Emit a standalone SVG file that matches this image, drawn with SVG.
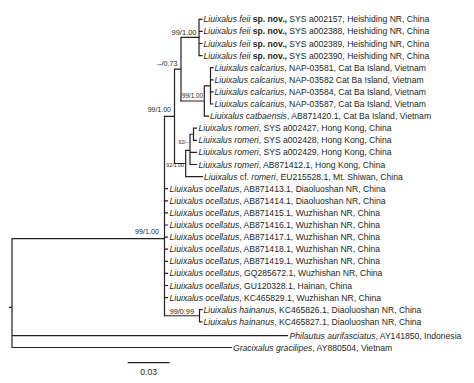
<svg xmlns="http://www.w3.org/2000/svg" width="474" height="383" viewBox="0 0 474 383">
<style>
.br{fill:none;stroke:#231f20;stroke-width:1.2;stroke-linecap:square}
.t{font-family:"Liberation Sans",Arial,sans-serif;font-size:8.6px;fill:#231f20}
.i{font-style:italic}
.b{font-weight:bold}
.s{font-family:"Liberation Sans",Arial,sans-serif;fill:#231f20;text-anchor:end}
</style>
<rect width="474" height="383" fill="#fff"/>
<g id="connectors" class="br">
<path d="M9.5 307.3H12M12 238.6V347.5M12 238.6H164.5M12 335.7H287.5M12 347.5H231.5"/>
<path d="M164.5 116.35V315.75M164.5 116.35H174.5M174.5 69.2V163.5M174.5 69.2H181M181 37.45V101M181 37.45H199"/>
<path d="M199 19.3V55.6M199 19.3H202M199 31.4H202M199 43.5H202M199 55.6H202"/>
<path d="M181 101H204.3M204.3 85.85V116.1M204.3 85.85H210.5M210.5 67.7V104M210.5 67.7H213M210.5 79.8H213M210.5 91.9H213M210.5 104H213M204.3 116.1H208.5"/>
<path d="M174.5 163.5H185.7M185.7 150.4V176.6M185.7 150.4H190M190 134.25V164.5M190 134.25H193.5M193.5 128.2V140.3M193.5 128.2H196.5M193.5 140.3H196.5M190 152.4H196.5M190 164.5H196.5M185.7 176.6H202.5"/>
<path d="M164.5 188.7H167.5M164.5 200.8H167.5M164.5 212.9H167.5M164.5 225H167.5M164.5 237.1H167.5M164.5 249.2H167.5M164.5 261.3H167.5M164.5 273.4H167.5M164.5 285.5H167.5M164.5 297.6H167.5"/>
<path d="M164.5 315.75H199.5M199.5 309.7V321.8M199.5 309.7H202M199.5 321.8H202"/>
<path d="M128.3 362.7H169"/>
</g>
<g id="supports">
<text class="s" x="196.5" y="35" font-size="7.5">99/1.00</text>
<text class="s" x="177.5" y="65.5" font-size="7.2">–/0.73</text>
<text class="s" x="203" y="97.6" font-size="6.3">99/1.00</text>
<text class="s" x="171" y="111.5" font-size="7">99/1.00</text>
<text class="s" x="188.5" y="144.3" font-size="5.3">92/–</text>
<text class="s" x="184" y="166.5" font-size="5.3">92/1.00</text>
<text class="s" x="159" y="233.5" font-size="7.2">99/1.00</text>
<text class="s" x="194" y="314.3" font-size="7.3">99/0.99</text>
</g>
<g id="tips" class="t">
<g id="t1"><text x="203.5" y="22.3"><tspan class="i">Liuixalus feii</tspan> <tspan class="b">sp. nov.,</tspan> SYS a002157, Heishiding NR, China</text></g>
<g id="t2"><text x="203.5" y="34.4"><tspan class="i">Liuixalus feii</tspan> <tspan class="b">sp. nov.,</tspan> SYS a002388, Heishiding NR, China</text></g>
<g id="t3"><text x="203.5" y="46.5"><tspan class="i">Liuixalus feii</tspan> <tspan class="b">sp. nov.,</tspan> SYS a002389, Heishiding NR, China</text></g>
<g id="t4"><text x="203.5" y="58.6"><tspan class="i">Liuixalus feii</tspan> <tspan class="b">sp. nov.,</tspan> SYS a002390, Heishiding NR, China</text></g>
<g id="t5"><text x="214.5" y="70.7"><tspan class="i">Liuixalus calcarius</tspan>, NAP-03581, Cat Ba Island, Vietnam</text></g>
<g id="t6"><text x="214.5" y="82.8"><tspan class="i">Liuixalus calcarius</tspan>, NAP-03582 Cat Ba Island, Vietnam</text></g>
<g id="t7"><text x="214.5" y="94.9"><tspan class="i">Liuixalus calcarius</tspan>, NAP-03584, Cat Ba Island, Vietnam</text></g>
<g id="t8"><text x="214.5" y="107"><tspan class="i">Liuixalus calcarius</tspan>, NAP-03587, Cat Ba Island, Vietnam</text></g>
<g id="t9"><text x="210" y="119.1"><tspan class="i">Liuixalus catbaensis</tspan>, AB871420.1, Cat Ba Island, Vietnam</text></g>
<g id="t10"><text x="198.5" y="131.2"><tspan class="i">Liuixalus romeri</tspan>, SYS a002427, Hong Kong, China</text></g>
<g id="t11"><text x="198.5" y="143.3"><tspan class="i">Liuixalus romeri</tspan>, SYS a002428, Hong Kong, China</text></g>
<g id="t12"><text x="198.5" y="155.4"><tspan class="i">Liuixalus romeri</tspan>, SYS a002429, Hong Kong, China</text></g>
<g id="t13"><text x="198.5" y="167.5"><tspan class="i">Liuixalus romeri</tspan>, AB871412.1, Hong Kong, China</text></g>
<g id="t14"><text x="204" y="179.6"><tspan class="i">Liuixalus</tspan> cf. <tspan class="i">romeri</tspan>, EU215528.1, Mt. Shiwan, China</text></g>
<g id="t15"><text x="169.5" y="191.7"><tspan class="i">Liuixalus ocellatus</tspan>, AB871413.1, Diaoluoshan NR, China</text></g>
<g id="t16"><text x="169.5" y="203.8"><tspan class="i">Liuixalus ocellatus</tspan>, AB871414.1, Diaoluoshan NR, China</text></g>
<g id="t17"><text x="169.5" y="215.9"><tspan class="i">Liuixalus ocellatus</tspan>, AB871415.1, Wuzhishan NR, China</text></g>
<g id="t18"><text x="169.5" y="228"><tspan class="i">Liuixalus ocellatus</tspan>, AB871416.1, Wuzhishan NR, China</text></g>
<g id="t19"><text x="169.5" y="240.1"><tspan class="i">Liuixalus ocellatus</tspan>, AB871417.1, Wuzhishan NR, China</text></g>
<g id="t20"><text x="169.5" y="252.2"><tspan class="i">Liuixalus ocellatus</tspan>, AB871418.1, Wuzhishan NR, China</text></g>
<g id="t21"><text x="169.5" y="264.3"><tspan class="i">Liuixalus ocellatus</tspan>, AB871419.1, Wuzhishan NR, China</text></g>
<g id="t22"><text x="169.5" y="276.4"><tspan class="i">Liuixalus ocellatus</tspan>, GQ285672.1, Wuzhishan NR, China</text></g>
<g id="t23"><text x="169.5" y="288.5"><tspan class="i">Liuixalus ocellatus</tspan>, GU120328.1, Hainan, China</text></g>
<g id="t24"><text x="169.5" y="300.6"><tspan class="i">Liuixalus ocellatus</tspan>, KC465829.1, Wuzhishan NR, China</text></g>
<g id="t25"><text x="203.5" y="312.7"><tspan class="i">Liuixalus hainanus</tspan>, KC465826.1, Diaoluoshan NR, China</text></g>
<g id="t26"><text x="203.5" y="324.8"><tspan class="i">Liuixalus hainanus</tspan>, KC465827.1, Diaoluoshan NR, China</text></g>
<g id="t27"><text x="289.5" y="338.7"><tspan class="i">Philautus aurifasciatus</tspan>, AY141850, Indonesia</text></g>
<g id="t28"><text x="233" y="350.5"><tspan class="i">Gracixalus gracilipes</tspan>, AY880504, Vietnam</text></g>
</g>
<g id="scale"><text class="t" x="148.6" y="374.8" text-anchor="middle">0.03</text></g>
</svg>
